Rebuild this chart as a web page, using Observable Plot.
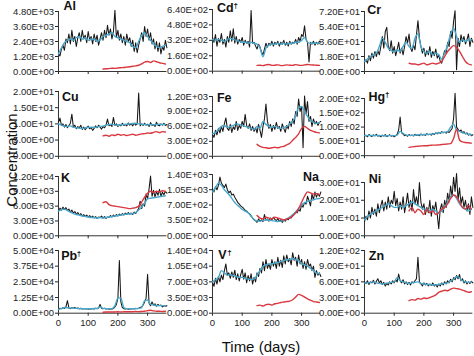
<!DOCTYPE html>
<html><head><meta charset="utf-8">
<script src="https://cdn.jsdelivr.net/npm/d3@7"></script>
<script src="https://cdn.jsdelivr.net/npm/@observablehq/plot@0.6"></script>
<style>
body{margin:0;background:#fff;font-family:"Liberation Sans",Arial,sans-serif;}
#chart{position:relative;width:474px;height:356px;overflow:hidden;background:#fff;}
.ttl{position:absolute;font-size:15px;line-height:15px;color:#111;white-space:nowrap;}
</style></head><body><div id="chart"></div>
<script>
// ---- time grids (days) ----
const blackDays = d3.range(0, 366, 5);   // 74 points
const blueDays = d3.range(0, 361, 10);   // 37 points
const redDays = d3.range(150, 361, 10);  // 22 points

// ---- element names and tick labels ----
const elements = ["Al","Cd","Cr","Cu","Fe","Hg","K","Na","Ni","Pb","V","Zn"];
const daggers = [false,true,false,false,false,true,false,false,false,true,true,false];
const alTicks = [0,1200,2400,3600,4800];
const cdTicks = [0,160,320,480,640];
const crTicks = [0,18,36,54,72];
const cuTicks = [0,5,10,15,20];
const feTicks = [0,300,600,900,1200];
const hgTicks = [0,50,100,150,200];
const kTicks = [0,3000,6000,9000,12000];
const naTicks = [0,350,700,1050,1400];
const niTicks = [0,10,20,30];
const pbTicks = [0,12500,25000,37500,50000];
const vTicks = [0,3500,7000,10500,14000];
const znTicks = [0,30,60,90,120];
const xTicks = [0,100,200,300];

// ---- series ----
const alBlack = [1400,1250,1800,2100,1700,2600,2300,3000,2200,3300,
 2400,2800,2000,2700,3100,2400,3300,2600,2900,2300,
 3200,2500,2800,2200,3000,2400,2900,2100,2600,3100,
 2500,3300,2700,3700,2900,3400,2600,3200,4900,2700,
 3300,2500,3000,2300,2800,2100,3000,2400,2700,2000,
 2500,1600,2300,1500,2100,2600,3100,2400,3600,2800,
 3400,2500,3100,2200,2600,1800,2400,1600,2300,1400,
 2000,1700,2500,1900];
const alBlue = [1400,1900,2300,2500,2600,2500,2700,2800,2600,2700,
 2500,2600,2600,2400,2500,2800,2900,3000,3100,2800,
 2700,2600,2500,2400,2300,2000,1900,2400,2900,3100,
 2800,2500,2200,2000,1900,2000,2100];
const alRed = [200,220,230,260,250,280,300,320,350,380,
 420,450,500,600,750,800,720,850,780,700,650,600];

const cdBlack = [350,300,380,260,340,300,390,280,330,250,
 360,300,420,310,440,290,360,280,330,300,
 350,270,320,290,310,250,630,290,300,260,
 230,280,250,200,170,230,290,250,290,270,
 310,260,300,280,310,260,300,280,320,270,
 300,260,310,280,300,290,330,280,350,310,
 380,360,470,330,300,95,300,280,310,270,
 300,280,310,300];
const cdBlue = [330,320,330,320,310,330,340,330,320,310,
 300,300,290,300,290,280,240,150,240,270,
 280,280,290,280,290,280,290,290,300,300,
 320,350,300,290,290,290,290];
const cdRed = [60,62,58,65,70,60,62,66,58,60,
 65,62,60,68,62,60,65,70,66,64,62,60];

const crBlack = [11,14,10,19,13,22,16,24,18,25,
 20,30,42,28,48,53,30,25,37,22,
 30,19,26,35,22,28,20,30,42,34,
 45,28,24,32,26,44,61,40,30,22,
 28,18,25,20,30,17,24,19,27,16,
 20,12,10,18,25,22,35,30,48,40,
 60,73,2,40,30,44,36,42,33,38,
 45,30,40,35];
const crBlue = [12,15,18,20,22,30,40,35,28,25,
 24,26,24,30,35,30,28,40,45,30,
 24,22,24,20,22,20,15,22,32,45,
 52,42,35,38,36,38,38];
const crRed = [10,9,9,8,9,10,8,9,10,9,
 10,12,18,24,28,31,29,24,18,12,9,8];

const cuBlack = [10.5,11.8,9.5,10,9,9.8,8.8,9.5,10.2,13,
 9,9.6,8.5,9.2,8.7,9.6,8.3,9,8.2,8.8,
 9.3,8.5,8.9,8,8.6,9.4,8.8,9.6,9,8.4,
 9.2,8.8,9.6,11.5,9.4,9.8,9.2,12,9.5,10,
 9.2,9.8,9.4,10.2,9.5,9.8,9.4,10.3,9.6,10,
 9.4,10.2,9.6,10,19.5,9.4,10,9.5,10.2,9.6,
 9.9,9.2,10.4,9.5,9.8,9.2,10.5,9.6,9.4,10,
 9.6,10.2,9.5,9.8];
const cuBlue = [10,9.6,9.3,9.2,9.4,9,8.8,8.7,8.6,8.8,
 8.9,9,8.9,9.1,9.2,9.3,9.6,9.8,9.9,9.7,
 9.6,9.7,9.8,9.9,10,10.1,10.2,10,9.9,9.8,
 9.7,9.8,9.7,9.8,9.9,9.8,9.8];
const cuRed = [6.3,6.5,6.2,6.6,6.4,6.8,6.5,6.7,6.4,6.6,
 6.8,6.5,6.7,6.9,7,7.2,7.1,7.4,7.6,7.3,7.6,7.5];

const feBlack = [440,380,520,430,560,470,600,500,650,770,
 560,520,640,480,590,540,700,520,620,560,
 700,600,840,620,560,650,520,600,500,580,
 470,640,520,380,600,750,1050,700,560,640,
 500,620,540,680,560,600,500,650,560,480,
 620,550,700,600,750,650,900,800,1150,900,
 1000,170,1210,850,1100,700,800,600,750,650,
 700,620,680,700];
const feBlue = [450,480,540,600,620,580,600,620,650,640,
 620,600,580,560,540,600,560,700,640,600,
 580,600,580,560,580,600,650,700,820,980,
 1000,900,800,720,680,660,680];
const feRed = [240,200,180,170,160,170,180,170,190,200,
 230,260,320,380,450,560,600,560,520,500,480,470];

const hgBlack = [68,72,66,74,70,67,73,69,75,68,
 71,66,72,69,74,67,70,73,68,71,
 66,70,74,90,135,80,75,70,72,68,
 74,70,72,69,75,71,73,70,76,72,
 74,71,77,73,75,72,78,74,80,76,
 82,78,84,80,82,79,85,81,88,95,
 130,218,100,92,85,90,80,84,76,80,
 72,76,70,73];
const hgBlue = [70,70,71,70,71,70,70,69,70,70,
 70,72,85,78,72,71,71,72,73,73,
 74,74,75,76,78,80,81,82,84,100,
 110,90,85,80,78,75,73];
const hgRed = [29,31,32,33,34,35,35,36,37,37,
 38,39,40,41,42,60,92,55,48,46,45,44];

const kBlack = [5000,5600,5200,5800,5300,5700,5100,5400,4800,5200,
 4600,4900,4400,4700,4200,4500,4000,4300,3900,4200,
 3800,4100,3700,4000,3600,3900,3500,3800,3700,4000,
 3600,3900,3500,3800,3700,4100,3800,4200,3900,4300,
 4000,4400,4100,4500,4200,4600,4300,4700,4400,4600,
 4300,4800,4500,5000,5500,7000,5500,6500,6000,8500,
 7500,9500,12100,8000,9200,7800,9000,8200,9400,8000,
 8800,8300,9000,8600];
const kBlue = [5000,5300,5400,5100,4800,4500,4300,4200,4000,3900,
 3800,3700,3700,3600,3700,3600,3700,3800,3900,4000,
 4100,4200,4300,4400,4400,4500,4700,5200,5800,6500,
 7500,7600,7700,7800,7900,8000,8100];
const kRed = [6700,6900,6300,6100,6000,5900,5800,5700,5600,5500,
 5600,5700,6000,6800,7800,8600,9000,8800,9000,8900,9100,9000];

const naBlack = [1070,1000,1120,1050,1150,1340,1200,1150,1100,1180,
 1050,980,1020,930,950,880,820,760,720,680,
 650,620,580,560,520,500,450,400,360,340,
 300,380,330,360,320,480,350,380,330,400,
 360,420,370,340,390,320,360,300,350,330,
 380,360,420,400,460,480,540,520,600,560,
 700,650,760,720,900,800,680,950,820,1000,
 880,960,900,1000];
const naBlue = [1000,1100,1200,1150,1050,980,900,800,720,660,
 600,560,520,440,370,330,330,340,360,350,
 340,330,320,330,350,380,420,480,540,620,
 700,750,780,800,820,840,850];
const naRed = [460,400,380,420,400,380,420,400,380,360,
 380,400,450,520,620,760,900,1000,980,950,960,940];

const niBlack = [8,11,9,14,10,16,12,15,11,18,
 13,17,20,14,19,15,22,16,20,18,
 25,17,21,14,19,15,22,13,18,24,
 16,20,14,26,18,22,17,30,19,15,
 18,12,16,13,20,11,17,14,19,12,
 4,15,18,13,20,16,24,19,28,22,
 33,25,35,20,27,18,22,16,20,14,
 18,12,22,16];
const niBlue = [9,11,12,13,14,15,16,17,18,17,
 16,16,17,16,17,18,19,18,17,16,
 15,15,14,15,14,13,14,16,19,22,
 23,21,18,16,15,14,15];
const niRed = [14,16,13,15,14,12,15,13,14,12,
 13,15,16,18,21,23,22,19,16,15,17,15];

const pbBlack = [3000,4000,3500,4500,3800,5000,10000,4200,3600,4400,
 3900,4600,3700,4200,3500,4000,3400,3800,3300,3700,
 3200,3600,3300,3800,3400,4000,3600,4200,7000,3800,
 3500,3900,3300,3700,3200,3600,3300,3800,5000,7000,
 12000,42000,9000,4500,3600,3300,3700,3200,3600,3300,
 3800,3400,3900,3500,4000,4500,5000,6500,9000,12000,
 31000,8000,6000,9000,6500,7500,5500,7000,6000,6500,
 5000,6000,5500,6000];
const pbBlue = [3000,3800,4500,4300,4000,3900,3800,3600,3500,3500,
 3500,3600,3700,3800,5000,3800,3600,3500,3600,6000,
 12000,12000,4500,3600,3500,3500,3600,3800,4500,10000,
 10500,7000,6500,6000,6000,6000,5800];
const pbRed = [800,900,1000,900,1000,1100,1000,1100,1200,1100,
 1200,1300,1200,1400,1600,2000,2400,1800,1600,1500,1400,1500];

const vBlack = [6900,6000,7800,6500,8200,7000,8500,7500,9500,11000,
 8500,9000,7800,9200,8000,9600,7500,8800,7200,8600,
 9800,7600,9000,6800,8400,7200,8800,6500,8000,7000,
 9000,8200,10000,9000,11500,9500,12000,10000,11000,9800,
 12000,10500,11500,10000,12500,10500,11800,10200,12800,11000,
 13000,11500,12200,10800,13500,11800,12500,10500,13000,11000,
 12000,10000,11500,9800,12000,10500,11000,9500,10500,8000,
 9500,8500,9000,8200];
const vBlue = [7000,7500,8000,9500,9000,8500,8600,8400,8200,8000,
 8000,7800,7600,7500,7600,8500,9500,10500,10800,11000,
 11000,11200,11300,11500,11800,12000,12000,12200,12000,11800,
 11000,10800,10500,10000,9500,9000,8800];
const vRed = [1700,1800,1600,1900,2000,1800,2100,2200,2400,2500,
 2600,2700,3000,3600,4200,4000,3600,3200,2900,2600,2500,2400];

const znBlack = [60,57,62,55,60,58,63,56,61,66,
 58,62,55,59,52,57,54,60,56,62,
 58,64,60,75,62,58,64,56,60,55,
 59,54,60,58,62,66,107,60,56,52,
 58,54,57,52,56,53,58,52,55,50,
 56,52,58,54,60,56,62,58,65,60,
 68,64,72,66,74,62,66,58,62,56,
 60,57,61,58];
const znBlue = [58,58,59,60,58,57,56,57,58,59,
 60,68,62,60,58,57,58,59,60,57,
 56,55,55,54,54,55,56,57,58,62,
 65,70,68,62,60,59,60];
const znRed = [24,26,25,28,27,29,28,30,32,35,
 40,42,44,43,46,48,47,46,44,42,40,41];

const allTicks = [alTicks,cdTicks,crTicks,cuTicks,feTicks,hgTicks,kTicks,naTicks,niTicks,pbTicks,vTicks,znTicks];
const allBlack = [alBlack,cdBlack,crBlack,cuBlack,feBlack,hgBlack,kBlack,naBlack,niBlack,pbBlack,vBlack,znBlack];
const allBlue = [alBlue,cdBlue,crBlue,cuBlue,feBlue,hgBlue,kBlue,naBlue,niBlue,pbBlue,vBlue,znBlue];
const allRed = [alRed,cdRed,crRed,cuRed,feRed,hgRed,kRed,naRed,niRed,pbRed,vRed,znRed];

// ---- layout (pixels) ----
const colX = [58.3, 212.3, 364];
const rowZero = [70.7, 155.5, 235, 312.7];
const topPx = [10.7, 9, 10.7, 90.7, 95.7, 98.3, 175.7, 174, 181.7, 250, 250, 250];
const labelBase = [9.5, 12, 13, 100, 101, 101, 181, 181, 182, 260, 259, 260];
const labelDx = [5, 4.4, 2.7, 3.4, 4.4, 4, 2.4, -2, 4.3, 2.7, 5.7, 4.3];
const labelW = {Cd: 16, Hg: 16, Pb: 15, V: 8.5};
const pxPerDay = 0.297;
const dayMax = 365;

const sci = d => {
  const [m, e] = d.toExponential(2).split("e");
  const n = +e;
  return `${m}E${n < 0 ? "-" : "+"}${String(Math.abs(n)).padStart(2, "0")}`;
};

const chart = document.getElementById("chart");

elements.forEach((name, i) => {
  const col = i % 3, row = Math.floor(i / 3);
  const x0 = colX[col], yZero = rowZero[row], yTop = topPx[i];
  const ticks = allTicks[i];
  const topVal = ticks[ticks.length - 1];
  const mL = 60, mR = 4, mT = 16, mB = row === 3 ? 22 : 6;
  const plotW = dayMax * pxPerDay;
  const w = mL + plotW + mR;
  const h = mT + (yZero - yTop) + mB;
  const isNa = name === "Na";
  const labelMarks = [
    Plot.text([name], {
      frameAnchor: isNa ? "top-right" : "top-left",
      text: d => d,
      dx: labelDx[i],
      dy: labelBase[i] - yTop,
      textAnchor: isNa ? "end" : "start",
      lineAnchor: "bottom",
      fontWeight: "bold",
      fontSize: 12.5,
      fill: "#111"
    })
  ];
  if (daggers[i]) {
    labelMarks.push(Plot.text(["\u2020"], {
      frameAnchor: "top-left",
      text: d => d,
      dx: labelDx[i] + labelW[name] + 0.5,
      dy: labelBase[i] - yTop - 4.5,
      textAnchor: "start",
      lineAnchor: "bottom",
      fontWeight: "bold",
      fontSize: 8,
      fill: "#111"
    }));
  }
  const svg = Plot.plot({
    width: w, height: h,
    marginLeft: mL, marginRight: mR, marginTop: mT, marginBottom: mB,
    style: {background: "transparent", overflow: "visible", fontFamily: "'Liberation Sans', Arial, sans-serif", fontSize: "9.5px", color: "#222"},
    x: {domain: [0, dayMax], ticks: xTicks, tickSize: 3, tickPadding: 3, tickFormat: row === 3 ? (d => String(d)) : (() => ""), label: null},
    y: {domain: [0, topVal], ticks: ticks, tickSize: 3, tickPadding: 1.5, tickFormat: sci, label: null},
    marks: [
      Plot.ruleX([0], {y1: 0, y2: topVal, stroke: "#333", strokeWidth: 1}),
      Plot.ruleY([0], {x1: 0, x2: dayMax, stroke: "#333", strokeWidth: 1}),
      Plot.line(allBlack[i], {x: (d, j) => blackDays[j], y: d => d, stroke: "#161616", strokeWidth: 1.05}),
      Plot.line(allBlue[i], {x: (d, j) => blueDays[j], y: d => d, stroke: "#49a8cc", strokeWidth: 1.4, curve: "monotone-x"}),
      Plot.line(allRed[i], {x: (d, j) => redDays[j], y: d => d, stroke: "#d8383f", strokeWidth: 1.4, curve: "monotone-x"}),
      ...labelMarks
    ]
  });
  svg.style.position = "absolute";
  svg.style.left = (x0 - mL) + "px";
  svg.style.top = (yTop - mT) + "px";
  chart.appendChild(svg);
});

// axis titles
const tx = document.createElement("div");
tx.className = "ttl";
tx.textContent = "Time (days)";
tx.style.left = "261px"; tx.style.top = "339px"; tx.style.transform = "translateX(-50%)";
chart.appendChild(tx);
const ty = document.createElement("div");
ty.className = "ttl";
ty.textContent = "Concentration";
ty.style.left = "11px"; ty.style.top = "160px"; ty.style.transform = "translate(-50%,-50%) rotate(-90deg)";
chart.appendChild(ty);
</script></body></html>
